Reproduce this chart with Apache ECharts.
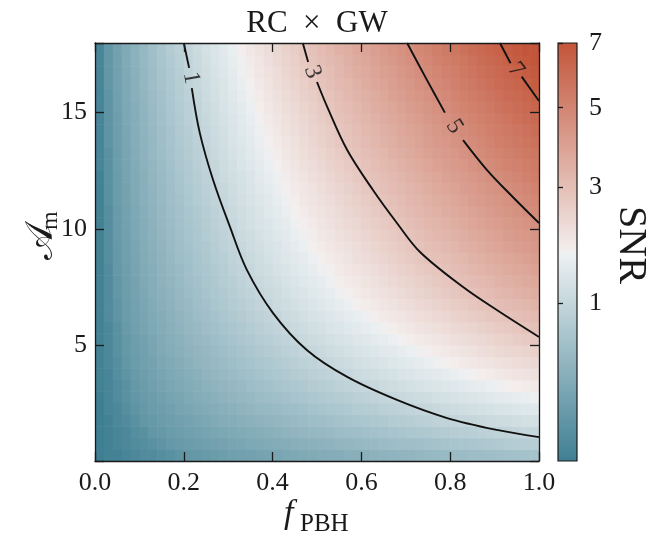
<!DOCTYPE html>
<html><head><meta charset="utf-8">
<script src="https://cdn.jsdelivr.net/npm/echarts@6/dist/echarts.min.js"></script>
<style>html,body{margin:0;padding:0;background:#fff}#c{width:661px;height:538px}</style>
</head><body><div id="c"></div>
<script>
// ---------------- data ----------------
const fCenters = [0.01,0.03,0.05,0.07,0.09,0.11,0.13,0.15,0.17,0.19,0.21,0.23,0.25,0.27,0.29,0.31,0.33,0.35,0.37,0.39,0.41,0.43,0.45,0.47,0.49,0.51,0.53,0.55,0.57,0.59,0.61,0.63,0.65,0.67,0.69,0.71,0.73,0.75,0.77,0.79,0.81,0.83,0.85,0.87,0.89,0.91,0.93,0.95,0.97,0.99];
const aCenters = [0.25,0.75,1.25,1.75,2.25,2.75,3.25,3.75,4.25,4.75,5.25,5.75,6.25,6.75,7.25,7.75,8.25,8.75,9.25,9.75,10.25,10.75,11.25,11.75,12.25,12.75,13.25,13.75,14.25,14.75,15.25,15.75,16.25,16.75,17.25,17.75];
// SNR per cell: one row per A_m (bottom row first), one column per f_PBH
const snrRows = [
[0.00,0.01,0.01,0.02,0.03,0.04,0.04,0.05,0.06,0.07,0.08,0.09,0.10,0.11,0.13,0.14,0.15,0.16,0.17,0.18,0.19,0.21,0.22,0.23,0.24,0.26,0.27,0.28,0.30,0.31,0.32,0.34,0.35,0.37,0.38,0.39,0.41,0.42,0.44,0.45,0.47,0.48,0.50,0.51,0.53,0.54,0.56,0.57,0.59,0.60],
[0.00,0.01,0.02,0.03,0.04,0.05,0.06,0.07,0.09,0.10,0.11,0.13,0.14,0.16,0.17,0.19,0.20,0.22,0.23,0.25,0.26,0.28,0.30,0.32,0.33,0.35,0.37,0.39,0.40,0.42,0.44,0.46,0.48,0.50,0.52,0.53,0.55,0.57,0.59,0.61,0.63,0.65,0.67,0.69,0.71,0.73,0.76,0.78,0.80,0.82],
[0.00,0.01,0.02,0.03,0.05,0.06,0.08,0.09,0.11,0.13,0.14,0.16,0.18,0.20,0.21,0.23,0.25,0.27,0.29,0.31,0.33,0.36,0.38,0.40,0.42,0.44,0.46,0.49,0.51,0.53,0.56,0.58,0.60,0.63,0.65,0.68,0.70,0.73,0.75,0.77,0.80,0.83,0.85,0.88,0.90,0.93,0.95,0.98,1.01,1.03],
[0.00,0.01,0.03,0.04,0.06,0.08,0.09,0.11,0.13,0.15,0.17,0.19,0.21,0.24,0.26,0.28,0.31,0.33,0.35,0.38,0.40,0.43,0.46,0.48,0.51,0.53,0.56,0.59,0.62,0.64,0.67,0.70,0.73,0.76,0.79,0.82,0.85,0.88,0.91,0.94,0.97,1.00,1.03,1.06,1.09,1.12,1.15,1.19,1.22,1.25],
[0.00,0.02,0.03,0.05,0.07,0.09,0.11,0.13,0.15,0.18,0.20,0.23,0.25,0.28,0.30,0.33,0.36,0.39,0.42,0.44,0.47,0.50,0.53,0.56,0.60,0.63,0.66,0.69,0.72,0.76,0.79,0.82,0.86,0.89,0.92,0.96,0.99,1.03,1.06,1.10,1.13,1.17,1.21,1.24,1.28,1.31,1.35,1.39,1.43,1.46],
[0.00,0.02,0.04,0.06,0.08,0.10,0.12,0.15,0.18,0.20,0.23,0.26,0.29,0.32,0.35,0.38,0.41,0.44,0.48,0.51,0.54,0.58,0.61,0.65,0.68,0.72,0.75,0.79,0.83,0.87,0.90,0.94,0.98,1.02,1.06,1.10,1.14,1.18,1.22,1.26,1.30,1.34,1.38,1.42,1.47,1.51,1.55,1.59,1.64,1.68],
[0.01,0.02,0.04,0.06,0.09,0.11,0.14,0.17,0.20,0.23,0.26,0.29,0.33,0.36,0.39,0.43,0.46,0.50,0.54,0.57,0.61,0.65,0.69,0.73,0.77,0.81,0.85,0.89,0.93,0.98,1.02,1.06,1.10,1.15,1.19,1.24,1.28,1.33,1.37,1.42,1.46,1.51,1.56,1.60,1.65,1.70,1.75,1.79,1.84,1.89],
[0.01,0.02,0.05,0.07,0.10,0.13,0.16,0.19,0.22,0.25,0.29,0.32,0.36,0.40,0.44,0.48,0.52,0.56,0.60,0.64,0.68,0.72,0.77,0.81,0.86,0.90,0.95,0.99,1.04,1.09,1.13,1.18,1.23,1.28,1.33,1.38,1.43,1.48,1.53,1.58,1.63,1.68,1.73,1.79,1.84,1.89,1.94,2.00,2.05,2.11],
[0.01,0.03,0.05,0.08,0.11,0.14,0.17,0.21,0.24,0.28,0.32,0.36,0.40,0.44,0.48,0.52,0.57,0.61,0.66,0.70,0.75,0.80,0.85,0.89,0.94,0.99,1.04,1.09,1.14,1.20,1.25,1.30,1.35,1.41,1.46,1.52,1.57,1.63,1.68,1.74,1.79,1.85,1.91,1.97,2.02,2.08,2.14,2.20,2.26,2.32],
[0.01,0.03,0.06,0.09,0.12,0.15,0.19,0.23,0.27,0.31,0.35,0.39,0.43,0.48,0.53,0.57,0.62,0.67,0.72,0.77,0.82,0.87,0.92,0.98,1.03,1.08,1.14,1.19,1.25,1.31,1.36,1.42,1.48,1.53,1.59,1.65,1.71,1.77,1.83,1.89,1.96,2.02,2.08,2.15,2.21,2.27,2.34,2.40,2.46,2.53],
[0.01,0.03,0.06,0.09,0.13,0.16,0.20,0.24,0.29,0.33,0.38,0.42,0.47,0.52,0.57,0.62,0.67,0.72,0.78,0.83,0.89,0.94,1.00,1.06,1.11,1.17,1.23,1.29,1.35,1.41,1.47,1.54,1.60,1.66,1.73,1.79,1.86,1.92,1.99,2.05,2.12,2.19,2.26,2.32,2.39,2.46,2.53,2.60,2.67,2.74],
[0.01,0.03,0.06,0.10,0.14,0.18,0.22,0.26,0.31,0.36,0.41,0.46,0.51,0.56,0.61,0.67,0.72,0.78,0.84,0.90,0.96,1.02,1.08,1.14,1.20,1.26,1.33,1.39,1.46,1.52,1.59,1.66,1.72,1.79,1.86,1.93,2.00,2.07,2.14,2.21,2.28,2.35,2.43,2.50,2.58,2.65,2.72,2.80,2.88,2.95],
[0.01,0.04,0.07,0.11,0.15,0.19,0.24,0.28,0.33,0.38,0.43,0.49,0.54,0.60,0.66,0.72,0.77,0.84,0.90,0.96,1.02,1.09,1.15,1.22,1.29,1.35,1.42,1.49,1.56,1.63,1.70,1.77,1.85,1.92,1.99,2.07,2.14,2.22,2.29,2.37,2.45,2.52,2.60,2.68,2.76,2.84,2.92,3.00,3.08,3.16],
[0.01,0.04,0.07,0.11,0.16,0.20,0.25,0.30,0.35,0.41,0.46,0.52,0.58,0.64,0.70,0.76,0.83,0.89,0.96,1.02,1.09,1.16,1.23,1.30,1.37,1.44,1.51,1.59,1.66,1.74,1.81,1.89,1.97,2.04,2.12,2.20,2.28,2.36,2.44,2.52,2.61,2.69,2.77,2.86,2.94,3.03,3.11,3.20,3.28,3.37],
[0.01,0.04,0.08,0.12,0.17,0.21,0.27,0.32,0.37,0.43,0.49,0.55,0.61,0.68,0.74,0.81,0.87,0.94,1.01,1.08,1.15,1.23,1.30,1.38,1.45,1.53,1.60,1.68,1.76,1.84,1.92,2.00,2.08,2.16,2.25,2.33,2.42,2.50,2.59,2.67,2.76,2.85,2.94,3.02,3.11,3.20,3.29,3.38,3.48,3.57],
[0.01,0.04,0.08,0.13,0.17,0.23,0.28,0.34,0.39,0.45,0.52,0.58,0.64,0.71,0.78,0.85,0.92,0.99,1.06,1.14,1.21,1.29,1.37,1.45,1.52,1.60,1.68,1.77,1.85,1.93,2.02,2.10,2.19,2.27,2.36,2.45,2.54,2.63,2.72,2.81,2.90,2.99,3.08,3.18,3.27,3.37,3.46,3.56,3.65,3.75],
[0.01,0.04,0.09,0.13,0.18,0.24,0.29,0.35,0.41,0.47,0.54,0.61,0.67,0.74,0.82,0.89,0.96,1.04,1.11,1.19,1.27,1.35,1.43,1.51,1.60,1.68,1.76,1.85,1.94,2.03,2.11,2.20,2.29,2.38,2.47,2.57,2.66,2.75,2.84,2.94,3.04,3.13,3.23,3.33,3.43,3.52,3.62,3.72,3.82,3.93],
[0.01,0.05,0.09,0.14,0.19,0.25,0.31,0.37,0.43,0.50,0.56,0.63,0.70,0.78,0.85,0.93,1.00,1.08,1.16,1.24,1.33,1.41,1.50,1.58,1.67,1.75,1.84,1.93,2.02,2.12,2.21,2.30,2.39,2.49,2.58,2.68,2.78,2.88,2.97,3.07,3.17,3.27,3.37,3.48,3.58,3.68,3.79,3.89,4.00,4.10],
[0.01,0.05,0.09,0.14,0.20,0.26,0.32,0.38,0.45,0.52,0.59,0.66,0.73,0.81,0.89,0.97,1.05,1.13,1.21,1.30,1.38,1.47,1.56,1.65,1.74,1.83,1.92,2.01,2.11,2.20,2.30,2.40,2.49,2.59,2.69,2.79,2.89,2.99,3.09,3.20,3.30,3.41,3.51,3.62,3.73,3.83,3.94,4.05,4.16,4.27],
[0.01,0.05,0.10,0.15,0.21,0.27,0.33,0.40,0.47,0.54,0.61,0.68,0.76,0.84,0.92,1.00,1.09,1.17,1.26,1.35,1.44,1.53,1.62,1.71,1.80,1.90,1.99,2.09,2.19,2.29,2.39,2.49,2.59,2.69,2.80,2.90,3.00,3.11,3.22,3.32,3.43,3.54,3.65,3.76,3.87,3.98,4.10,4.21,4.32,4.44],
[0.01,0.05,0.10,0.16,0.21,0.28,0.34,0.41,0.48,0.56,0.63,0.71,0.79,0.87,0.96,1.04,1.13,1.22,1.31,1.40,1.49,1.58,1.68,1.77,1.87,1.97,2.07,2.17,2.27,2.37,2.48,2.58,2.69,2.79,2.90,3.01,3.12,3.23,3.33,3.45,3.56,3.67,3.79,3.90,4.02,4.13,4.25,4.36,4.48,4.60],
[0.01,0.05,0.10,0.16,0.22,0.29,0.35,0.43,0.50,0.58,0.65,0.73,0.82,0.90,0.99,1.08,1.17,1.26,1.35,1.45,1.54,1.64,1.74,1.84,1.94,2.04,2.14,2.24,2.35,2.46,2.56,2.67,2.78,2.89,3.00,3.11,3.22,3.34,3.45,3.57,3.68,3.80,3.92,4.04,4.16,4.27,4.40,4.52,4.64,4.76],
[0.01,0.06,0.11,0.17,0.23,0.30,0.37,0.44,0.52,0.59,0.68,0.76,0.85,0.93,1.02,1.11,1.21,1.30,1.40,1.49,1.59,1.69,1.79,1.90,2.00,2.10,2.21,2.32,2.43,2.54,2.65,2.76,2.87,2.98,3.10,3.22,3.33,3.45,3.56,3.68,3.80,3.92,4.05,4.17,4.29,4.41,4.54,4.66,4.79,4.92],
[0.01,0.06,0.11,0.17,0.24,0.30,0.38,0.45,0.53,0.61,0.70,0.78,0.87,0.96,1.05,1.15,1.24,1.34,1.44,1.54,1.64,1.74,1.85,1.96,2.06,2.17,2.28,2.39,2.50,2.62,2.73,2.85,2.96,3.08,3.20,3.32,3.43,3.56,3.68,3.80,3.92,4.05,4.17,4.30,4.43,4.55,4.68,4.81,4.94,5.07],
[0.01,0.06,0.11,0.18,0.24,0.31,0.39,0.47,0.55,0.63,0.72,0.81,0.90,0.99,1.09,1.19,1.28,1.38,1.49,1.59,1.70,1.80,1.91,2.02,2.13,2.24,2.36,2.47,2.58,2.70,2.82,2.94,3.06,3.18,3.30,3.43,3.55,3.68,3.80,3.93,4.05,4.18,4.31,4.44,4.58,4.70,4.84,4.97,5.11,5.24],
[0.02,0.06,0.12,0.18,0.25,0.33,0.40,0.48,0.57,0.66,0.74,0.84,0.93,1.03,1.13,1.23,1.33,1.43,1.54,1.65,1.76,1.87,1.98,2.09,2.20,2.32,2.44,2.56,2.67,2.80,2.92,3.04,3.17,3.29,3.42,3.55,3.67,3.80,3.93,4.06,4.19,4.33,4.46,4.60,4.73,4.87,5.01,5.14,5.28,5.42],
[0.02,0.06,0.12,0.19,0.26,0.34,0.42,0.50,0.59,0.68,0.77,0.86,0.96,1.06,1.16,1.27,1.37,1.48,1.59,1.70,1.81,1.93,2.04,2.16,2.28,2.40,2.52,2.64,2.76,2.89,3.01,3.14,3.27,3.40,3.53,3.66,3.79,3.93,4.06,4.20,4.33,4.47,4.61,4.75,4.89,5.03,5.17,5.31,5.46,5.60],
[0.02,0.07,0.13,0.19,0.27,0.35,0.43,0.52,0.61,0.70,0.79,0.89,0.99,1.10,1.20,1.31,1.42,1.53,1.64,1.76,1.87,1.99,2.11,2.23,2.35,2.47,2.60,2.73,2.85,2.98,3.11,3.24,3.38,3.51,3.64,3.78,3.91,4.05,4.19,4.33,4.47,4.61,4.76,4.90,5.05,5.19,5.34,5.48,5.63,5.78],
[0.02,0.07,0.13,0.20,0.28,0.36,0.44,0.53,0.62,0.72,0.81,0.91,1.02,1.12,1.23,1.34,1.45,1.57,1.68,1.80,1.92,2.04,2.16,2.29,2.41,2.54,2.66,2.79,2.92,3.06,3.19,3.33,3.46,3.59,3.73,3.87,4.01,4.16,4.29,4.44,4.58,4.73,4.88,5.02,5.17,5.32,5.47,5.62,5.77,5.93],
[0.02,0.07,0.13,0.21,0.28,0.37,0.45,0.55,0.64,0.74,0.84,0.94,1.05,1.16,1.27,1.38,1.50,1.61,1.73,1.86,1.98,2.10,2.23,2.36,2.48,2.61,2.75,2.88,3.01,3.15,3.29,3.43,3.57,3.71,3.85,4.00,4.14,4.28,4.43,4.58,4.73,4.87,5.03,5.18,5.33,5.49,5.64,5.80,5.95,6.11],
[0.02,0.07,0.14,0.21,0.29,0.38,0.47,0.56,0.66,0.76,0.86,0.97,1.08,1.19,1.31,1.42,1.54,1.66,1.79,1.91,2.04,2.17,2.30,2.43,2.56,2.69,2.83,2.97,3.10,3.25,3.39,3.53,3.68,3.82,3.97,4.12,4.26,4.41,4.56,4.71,4.87,5.02,5.18,5.34,5.49,5.65,5.81,5.97,6.13,6.29],
[0.02,0.07,0.14,0.22,0.30,0.39,0.48,0.58,0.68,0.78,0.89,1.00,1.11,1.23,1.35,1.47,1.59,1.71,1.84,1.97,2.10,2.23,2.36,2.50,2.63,2.77,2.91,3.05,3.19,3.34,3.48,3.63,3.78,3.93,4.08,4.23,4.38,4.54,4.69,4.85,5.01,5.17,5.33,5.49,5.65,5.81,5.98,6.14,6.31,6.48],
[0.02,0.08,0.15,0.22,0.31,0.40,0.50,0.60,0.70,0.80,0.91,1.03,1.14,1.26,1.38,1.51,1.63,1.76,1.89,2.02,2.16,2.29,2.43,2.57,2.71,2.85,2.99,3.14,3.28,3.44,3.58,3.74,3.89,4.04,4.20,4.35,4.51,4.67,4.83,4.99,5.15,5.31,5.48,5.65,5.81,5.98,6.15,6.31,6.49,6.66],
[0.02,0.08,0.15,0.23,0.32,0.41,0.51,0.61,0.72,0.83,0.94,1.06,1.18,1.30,1.42,1.55,1.68,1.81,1.94,2.08,2.21,2.35,2.49,2.64,2.78,2.93,3.07,3.22,3.37,3.53,3.68,3.84,3.99,4.15,4.31,4.47,4.63,4.80,4.96,5.12,5.29,5.46,5.63,5.80,5.97,6.14,6.31,6.49,6.66,6.84],
[0.02,0.08,0.15,0.24,0.33,0.42,0.52,0.63,0.74,0.85,0.96,1.08,1.21,1.33,1.46,1.59,1.72,1.86,1.99,2.13,2.27,2.42,2.56,2.71,2.85,3.00,3.16,3.31,3.46,3.62,3.78,3.94,4.10,4.26,4.42,4.59,4.75,4.92,5.09,5.26,5.43,5.60,5.78,5.95,6.13,6.30,6.48,6.66,6.84,7.02],
[0.02,0.08,0.16,0.24,0.33,0.43,0.54,0.64,0.76,0.87,0.99,1.11,1.24,1.37,1.50,1.63,1.77,1.90,2.04,2.19,2.33,2.48,2.63,2.78,2.93,3.08,3.24,3.40,3.55,3.72,3.87,4.04,4.21,4.37,4.54,4.71,4.88,5.05,5.22,5.39,5.57,5.75,5.93,6.11,6.29,6.47,6.65,6.83,7.02,7.20]
];
const xTicks = [0.0, 0.2, 0.4, 0.6, 0.8, 1.0];
const yTicks = [5, 10, 15];
const cbarTicks = [1, 3, 5, 7];
const contourLevels = [1, 3, 5, 7];
// contour lines [f_PBH, A_m], split where the inline label sits
const contour1Upper = [[0.200,18.0],[0.212,16.93]];
const contour1Lower = [[0.218,16.06],[0.236,14.13],[0.266,12.10],[0.304,10.08],[0.342,8.23],[0.401,6.37],[0.477,4.78],[0.568,3.62],[0.680,2.63],[0.793,1.85],[0.905,1.34],[1.0,1.03]];
const contour3Upper = [[0.468,18.0],[0.480,17.18]];
const contour3Lower = [[0.500,16.32],[0.523,15.25],[0.568,13.39],[0.626,11.67],[0.680,10.25],[0.732,9.00],[0.829,7.49],[0.905,6.50],[1.0,5.34]];
const contour5Upper = [[0.703,18.0],[0.745,16.5],[0.788,15.0]];
const contour5Lower = [[0.829,13.82],[0.883,12.53],[0.941,11.37],[1.0,10.25]];
const contour7Upper = [[0.912,18.0],[0.936,17.13]];
const contour7Lower = [[0.961,16.55],[1.0,15.5]];
const contourLabelAt = [[0.216,16.5],[0.490,16.75],[0.809,14.4],[0.948,16.84]];

// ---------------- styles ----------------
const FONT = '"Liberation Serif", "DejaVu Serif", serif';
const INK = '#1a1a1a';
const labelAngles = [-80, -70, -58, -52];
const cmStops = [[63,127,147],[239,242,243],[243,239,238],[195,85,58]];
function rgb(a){return 'rgb('+a.join(',')+')';}
function mix(a,b,u){return rgb(a.map((c,k)=>Math.round(c+(b[k]-c)*u)));}
function cmap(t){ return t<0.5 ? mix(cmStops[0],cmStops[1],t/0.5) : mix(cmStops[2],cmStops[3],(t-0.5)/0.5); }
const rampColors = [];
for (let i=0;i<=80;i++){ rampColors.push(cmap(Math.sqrt(i/80))); } // square-root colour norm
// colour bar drawn in sqrt space (axis below is sqrt-scaled too)
const cbarGradient = new echarts.graphic.LinearGradient(0,1,0,0,[
  {offset:0, color:rgb(cmStops[0])},{offset:0.5, color:rgb(cmStops[1])},
  {offset:0.5, color:rgb(cmStops[2])},{offset:1, color:rgb(cmStops[3])}]);

const cells = [];
snrRows.forEach((row,j)=>row.forEach((v,i)=>cells.push([fCenters[i], aCenters[j], v])));
const halfF = (fCenters[1]-fCenters[0])/2, halfA = (aCenters[1]-aCenters[0])/2;

const lineStyleAxis = {color: INK, width: 1.3};
function lineSeries(pts){
  return {type:'line', xAxisIndex:0, yAxisIndex:0, data: pts, smooth: 0.35, showSymbol:false, symbol:'none',
          silent:true, z:3, lineStyle:{color:'#111', width:1.9}};
}

const chart = echarts.init(document.getElementById('c'), null, {renderer:'canvas'});
chart.setOption({
  animation:false,
  backgroundColor:'#fff',
  grid:[
    {left:95, top:43, width:444, height:418, containLabel:false},
    {left:558, top:43, width:19, height:418, show:true, borderColor:INK, borderWidth:1.2, backgroundColor:cbarGradient}
  ],
  xAxis:[
    {gridIndex:0, type:'value', min:0, max:1, interval:0.2, position:'bottom', z:10,
     axisLine:{show:true, onZero:false, lineStyle:lineStyleAxis},
     axisTick:{show:true, inside:true, length:9, lineStyle:lineStyleAxis},
     axisLabel:{show:true, margin:9, fontSize:26, fontFamily:FONT, color:INK,
       formatter:v=>{const m = xTicks.find(t=>Math.abs(t-v)<1e-6); return m===undefined?'':m.toFixed(1);}},
     splitLine:{show:false}},
    {gridIndex:0, type:'value', min:0, max:1, interval:0.2, position:'top', z:10,
     axisLine:{show:true, onZero:false, lineStyle:lineStyleAxis},
     axisTick:{show:true, inside:true, length:9, lineStyle:lineStyleAxis},
     axisLabel:{show:false}, splitLine:{show:false}},
    {gridIndex:1, type:'value', min:0, max:1, show:false}
  ],
  yAxis:[
    {gridIndex:0, type:'value', min:0, max:18, interval:5, position:'left', z:10,
     axisLine:{show:true, onZero:false, lineStyle:lineStyleAxis},
     axisTick:{show:true, inside:true, length:9, lineStyle:lineStyleAxis},
     axisLabel:{show:true, margin:8, fontSize:26, fontFamily:FONT, color:INK,
       formatter:v=>yTicks.includes(v)?String(v):''},
     splitLine:{show:false}},
    {gridIndex:0, type:'value', min:0, max:18, interval:5, position:'right', z:10,
     axisLine:{show:true, onZero:false, lineStyle:lineStyleAxis},
     axisTick:{show:true, inside:true, length:9, lineStyle:lineStyleAxis},
     axisLabel:{show:false}, splitLine:{show:false}},
    {gridIndex:1, type:'value', min:0, max:Math.sqrt(cbarTicks[cbarTicks.length-1]), position:'right', z:10,
     axisLine:{show:false},
     axisTick:{show:true, inside:false, length:5, lineStyle:lineStyleAxis, customValues: cbarTicks.map(Math.sqrt)},
     axisLabel:{show:true, margin:12, fontSize:26, fontFamily:FONT, color:INK, customValues: cbarTicks.map(Math.sqrt),
       formatter:v=>String(Math.round(v*v))},
     splitLine:{show:false}}
  ],
  visualMap:{
    type:'continuous', seriesIndex:0, dimension:2, min:0, max:cbarTicks[cbarTicks.length-1],
    inRange:{color:rampColors}, calculable:false, show:false
  },
  series:[
    {type:'custom', coordinateSystem:'cartesian2d', xAxisIndex:0, yAxisIndex:0, silent:true, z:1,
     dimensions:['f','A','snr'], encode:{x:0, y:1}, data:cells,
     renderItem:(params, api)=>{
       const f = api.value(0), a = api.value(1);
       const p0 = api.coord([f-halfF, a+halfA]);
       const p1 = api.coord([f+halfF, a-halfA]);
       return {type:'rect', shape:{x:p0[0], y:p0[1], width:p1[0]-p0[0]+0.6, height:p1[1]-p0[1]+0.6},
               style:{fill:api.visual('color')}};
     }},
    lineSeries(contour1Upper), lineSeries(contour1Lower),
    lineSeries(contour3Upper), lineSeries(contour3Lower),
    lineSeries(contour5Upper), lineSeries(contour5Lower),
    lineSeries(contour7Upper), lineSeries(contour7Lower),
    {type:'scatter', xAxisIndex:0, yAxisIndex:0, silent:true, z:4, symbol:'circle', symbolSize:1,
     itemStyle:{color:'rgba(0,0,0,0)'},
     label:{show:true, position:'inside', fontSize:24, fontFamily:FONT, color:'#111'},
     data: contourLabelAt.map((p,k)=>({value:p, label:{formatter:String(contourLevels[k]), rotate:labelAngles[k]}}))}
  ],
  graphic:[
    {type:'text', x:317, y:24, silent:true,
     style:{text:'RC\u2002×\u2002GW', font:'31px '+FONT, fill:INK, align:'center', verticalAlign:'middle', textAlign:'center', textVerticalAlign:'middle'}},
    {type:'text', x:284, y:514, silent:true,
     style:{text:'f', font:'italic 34px '+FONT, fill:INK, align:'left', verticalAlign:'middle', textAlign:'left', textVerticalAlign:'middle'}},
    {type:'text', x:300, y:524, silent:true,
     style:{text:'PBH', font:'25px '+FONT, fill:INK, align:'left', verticalAlign:'middle', textAlign:'left', textVerticalAlign:'middle'}},
    {type:'group', x:42, y:232, rotation:Math.PI/2, silent:true, children:[
      {type:'text', x:-28, y:0, style:{text:'𝒜', font:'38px '+FONT, fill:INK, align:'left', verticalAlign:'middle', textAlign:'left', textVerticalAlign:'middle'}},
      {type:'text', x:2, y:9, style:{text:'m', font:'24px '+FONT, fill:INK, align:'left', verticalAlign:'middle', textAlign:'left', textVerticalAlign:'middle'}}
    ]},
    {type:'text', x:630, y:245, rotation:-Math.PI/2, silent:true,
     style:{text:'SNR', font:'40px '+FONT, fill:INK, align:'center', verticalAlign:'middle', textAlign:'center', textVerticalAlign:'middle'}}
  ]
});
</script></body></html>
